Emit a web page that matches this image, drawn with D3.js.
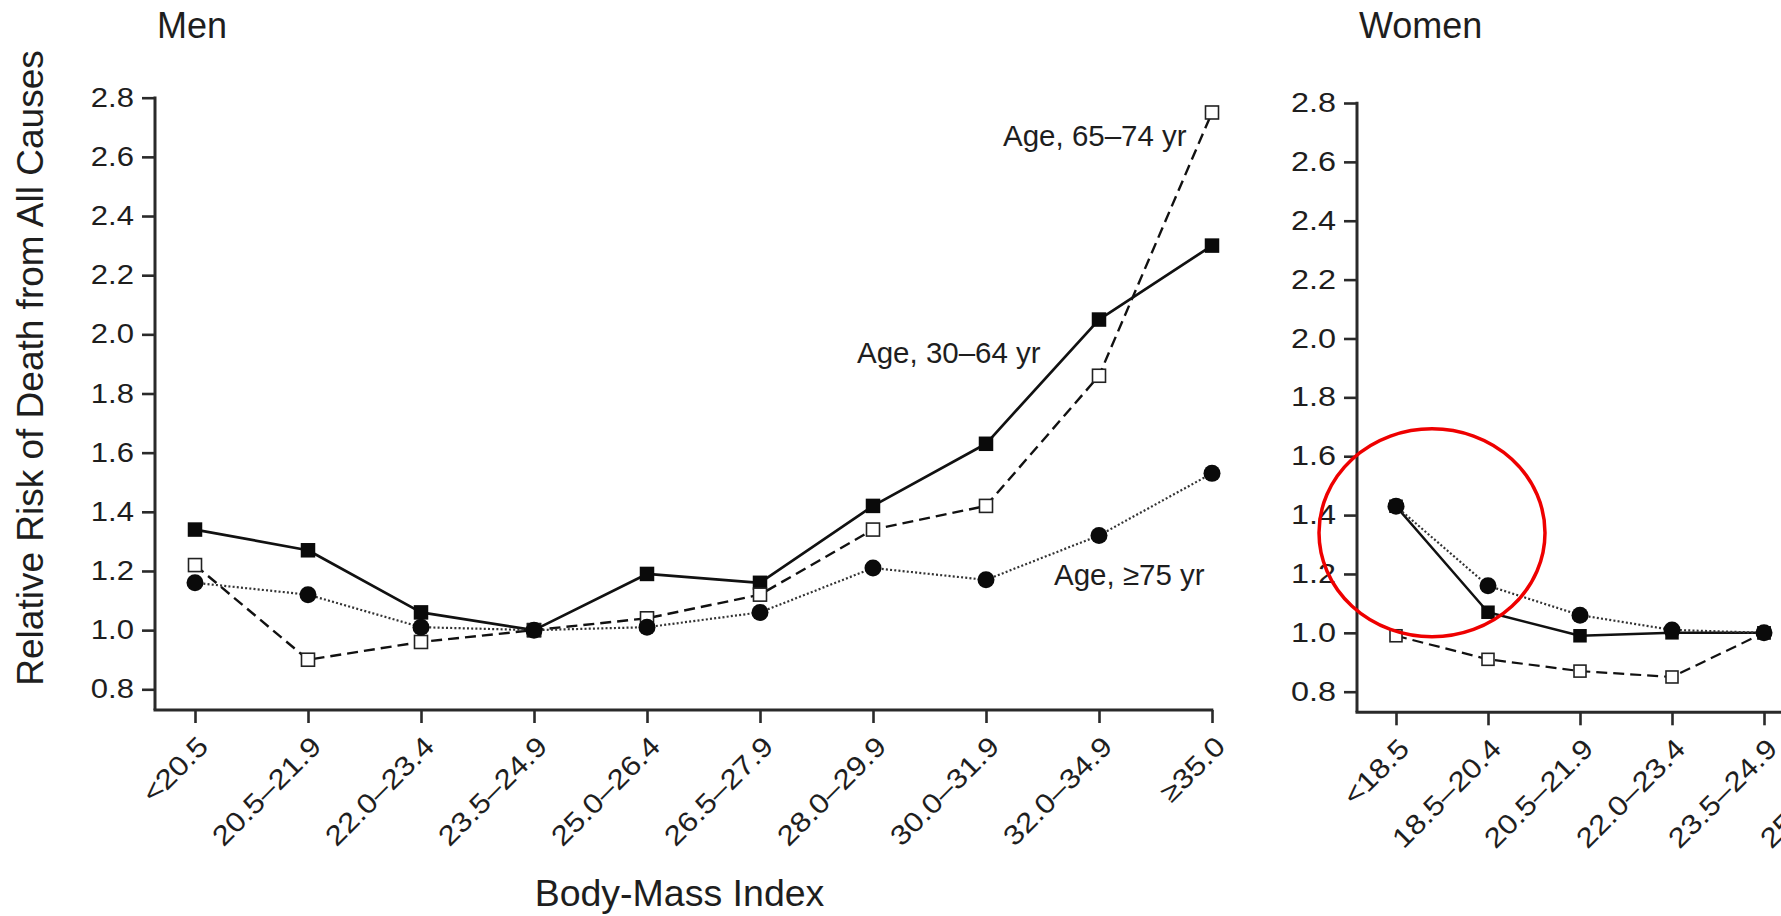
<!DOCTYPE html>
<html>
<head>
<meta charset="utf-8">
<script src="https://cdn.jsdelivr.net/npm/d3@7"></script>
<style>
  html, body { margin: 0; padding: 0; background: #fff; }
  svg { display: block; }
  text { font-family: "Liberation Sans", Arial, Helvetica, sans-serif; fill: #1e1e1e; }
</style>
</head>
<body>
<script>
// ---------------- data ----------------
const menCategories = ["<20.5", "20.5–21.9", "22.0–23.4", "23.5–24.9", "25.0–26.4",
                       "26.5–27.9", "28.0–29.9", "30.0–31.9", "32.0–34.9", "≥35.0"];
const womenCategories = ["<18.5", "18.5–20.4", "20.5–21.9", "22.0–23.4", "23.5–24.9", "25.0–26.4"];
const yTicks = [0.8, 1.0, 1.2, 1.4, 1.6, 1.8, 2.0, 2.2, 2.4, 2.6, 2.8];

const men30to64 = [1.34, 1.27, 1.06, 1.00, 1.19, 1.16, 1.42, 1.63, 2.05, 2.30];
const men65to74 = [1.22, 0.90, 0.96, 1.00, 1.04, 1.12, 1.34, 1.42, 1.86, 2.75];
const men75plus = [1.16, 1.12, 1.01, 1.00, 1.01, 1.06, 1.21, 1.17, 1.32, 1.53];

const women30to64 = [1.43, 1.07, 0.99, 1.00, 1.00];
const women65to74 = [0.99, 0.91, 0.87, 0.85, 1.00];
const women75plus = [1.43, 1.16, 1.06, 1.01, 1.00];

const seriesLabels = ["Age, 30–64 yr", "Age, 65–74 yr", "Age, ≥75 yr"];
const panelTitles = ["Men", "Women"];
const yAxisTitle = "Relative Risk of Death from All Causes";
const xAxisTitle = "Body-Mass Index";

// ---------------- layout ----------------
const W = 1781, H = 916;
const svg = d3.select("body").append("svg").attr("width", W).attr("height", H)
  .style("background", "#fff");

const axisColor = "#2a2a2a";
const yFloor = 0.73;      // value where the x axis sits
const digitStretch = 1.15; // reference numerals are wider than Arial

const panels = [
  {
    title: panelTitles[0], cats: menCategories,
    x: d3.scalePoint().domain(menCategories).range([195, 1212]),
    y: d3.scaleLinear().domain([0.8, 2.8]).range([689.3, 97.7]),
    axisX: 155, xEnd: 1212,
    solid: men30to64, dashed: men65to74, dotted: men75plus,
    sq: 14.5, osq: 13, r: 8.5, lw: 2.7, stretch: 1.15
  },
  {
    title: panelTitles[1], cats: womenCategories,
    x: d3.scalePoint().domain(womenCategories).range([1396, 1856]),
    y: d3.scaleLinear().domain([0.8, 2.8]).range([691.7, 103]),
    axisX: 1357, xEnd: 1900,
    solid: women30to64, dashed: women65to74, dotted: women75plus,
    sq: 13.5, osq: 12, r: 8.5, lw: 2.5, stretch: 1.2
  }
];

panels.forEach(p => {
  const g = svg.append("g");
  const baseY = p.y(yFloor);

  // title
  g.append("text").attr("x", p.axisX + 2).attr("y", 38)
    .style("font-size", "36px").text(p.title);

  // y axis
  const tickLen = 13, pad = 8;
  const yAxis = d3.axisLeft(p.y).tickValues(yTicks).tickFormat(d3.format(".1f"))
    .tickSize(tickLen).tickPadding(pad);
  const ga = g.append("g").attr("transform", `translate(${p.axisX},0)`).call(yAxis);
  ga.select(".domain").remove();
  ga.selectAll(".tick line").attr("stroke", axisColor).attr("stroke-width", 2.6);
  ga.selectAll(".tick text").style("font-size", "27px").attr("fill", "#1e1e1e")
    .style("font-family", '"Liberation Sans", Arial, sans-serif')
    .attr("x", -(tickLen + pad) / p.stretch)
    .attr("transform", `scale(${p.stretch},1)`);
  g.append("line").attr("x1", p.axisX).attr("x2", p.axisX)
    .attr("y1", p.y(2.8) - 1.3).attr("y2", baseY)
    .attr("stroke", axisColor).attr("stroke-width", 3);

  // x axis
  const xAxis = d3.axisBottom(p.x).tickSize(13).tickFormat("");
  const gx = g.append("g").attr("transform", `translate(0,${baseY})`).call(xAxis);
  gx.select(".domain").remove();
  gx.selectAll(".tick line").attr("stroke", axisColor).attr("stroke-width", 2.6);
  g.append("line").attr("x1", p.axisX - 1.5).attr("x2", p.xEnd + 1.3)
    .attr("y1", baseY).attr("y2", baseY)
    .attr("stroke", axisColor).attr("stroke-width", 3);

  // x tick labels rotated
  g.selectAll("text.xlab").data(p.cats).enter().append("text")
    .attr("class", "xlab")
    .attr("transform", d => `translate(${p.x(d) + 15},${baseY + 38}) rotate(-45) scale(${digitStretch},1)`)
    .attr("text-anchor", "end")
    .style("font-size", "27.5px")
    .text(d => d);

  const line = d3.line().x((d, i) => p.x(p.cats[i])).y(d => p.y(d));

  // solid: 30-64, filled squares
  g.append("path").datum(p.solid).attr("d", line).attr("fill", "none")
    .attr("stroke", "#111").attr("stroke-width", p.lw).attr("stroke-linejoin", "round");
  g.selectAll("rect.fsq").data(p.solid).enter().append("rect").attr("class", "fsq")
    .attr("x", (d, i) => p.x(p.cats[i]) - p.sq / 2).attr("y", d => p.y(d) - p.sq / 2)
    .attr("width", p.sq).attr("height", p.sq).attr("fill", "#0a0a0a");

  // dashed: 65-74, open squares
  g.append("path").datum(p.dashed).attr("d", line).attr("fill", "none")
    .attr("stroke", "#111").attr("stroke-width", p.lw - 0.3).attr("stroke-dasharray", "11,6");
  g.selectAll("rect.osq").data(p.dashed).enter().append("rect").attr("class", "osq")
    .attr("x", (d, i) => p.x(p.cats[i]) - p.osq / 2).attr("y", d => p.y(d) - p.osq / 2)
    .attr("width", p.osq).attr("height", p.osq).attr("fill", "#fff")
    .attr("stroke", "#222").attr("stroke-width", 1.6);

  // dotted: >=75, filled circles
  g.append("path").datum(p.dotted).attr("d", line).attr("fill", "none")
    .attr("stroke", "#333").attr("stroke-width", 2.2).attr("stroke-dasharray", "2,2.2");
  g.selectAll("circle.dot").data(p.dotted).enter().append("circle").attr("class", "dot")
    .attr("cx", (d, i) => p.x(p.cats[i])).attr("cy", d => p.y(d))
    .attr("r", p.r).attr("fill", "#0a0a0a");
});

// axis titles
const men = panels[0];
svg.append("text")
  .attr("transform", `translate(43,368) rotate(-90)`)
  .attr("text-anchor", "middle").style("font-size", "37px").text(yAxisTitle);
svg.append("text")
  .attr("x", (men.axisX + men.xEnd) / 2 - 4).attr("y", 906)
  .attr("text-anchor", "middle").style("font-size", "37.5px").text(xAxisTitle);

// series labels (men panel)
svg.append("text").attr("x", 857).attr("y", 363).style("font-size", "29.5px").text(seriesLabels[0]);
svg.append("text").attr("x", 1003).attr("y", 146).style("font-size", "29.5px").text(seriesLabels[1]);
svg.append("text").attr("x", 1054).attr("y", 585).style("font-size", "29.5px").text(seriesLabels[2]);

// red annotation ellipse on the women panel
const women = panels[1];
svg.append("ellipse")
  .attr("cx", (women.x(womenCategories[0]) + women.x(womenCategories[1])) / 2 - 10)
  .attr("cy", women.y(1.34))
  .attr("rx", 113).attr("ry", 104)
  .attr("fill", "none").attr("stroke", "#ee0000").attr("stroke-width", 3.5);
</script>
</body>
</html>
